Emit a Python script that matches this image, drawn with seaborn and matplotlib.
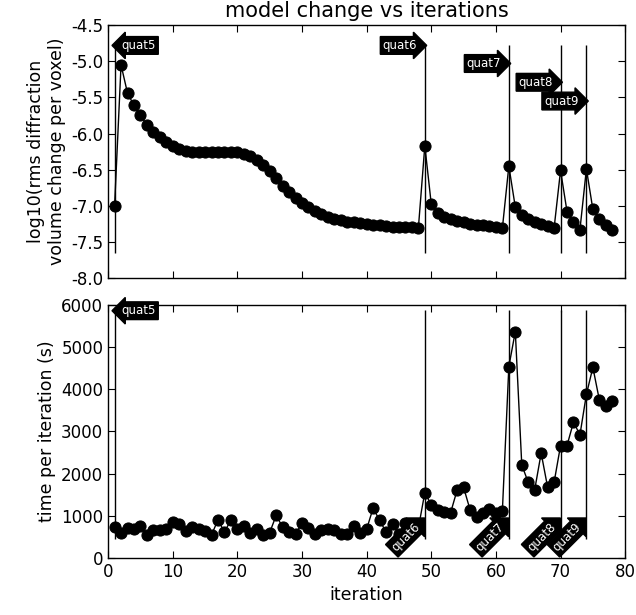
import numpy as np
import pandas as pd
import seaborn as sns
import matplotlib
matplotlib.use("Agg")
import matplotlib.pyplot as plt

iterations = list(range(1, 79))

rms_change = [
    -7.00, -5.05, -5.44, -5.61, -5.75, -5.88, -5.98, -6.05, -6.12, -6.17,
    -6.21, -6.24, -6.25, -6.26, -6.26, -6.26, -6.25, -6.25, -6.25, -6.26,
    -6.28, -6.31, -6.36, -6.43, -6.52, -6.62, -6.72, -6.81, -6.89, -6.96,
    -7.02, -7.07, -7.11, -7.15, -7.18, -7.20, -7.22, -7.23, -7.24, -7.25,
    -7.26, -7.27, -7.28, -7.29, -7.29, -7.30, -7.30, -7.31, -6.17, -6.98,
    -7.10, -7.16, -7.19, -7.21, -7.23, -7.25, -7.26, -7.27, -7.28, -7.29,
    -7.31, -6.45, -7.02, -7.13, -7.18, -7.22, -7.25, -7.28, -7.31, -6.51,
    -7.08, -7.23, -7.33, -6.49, -7.05, -7.18, -7.26, -7.34,
]

time_per_iter = [
    730, 585, 705, 690, 745, 545, 650, 665, 680, 845,
    805, 625, 720, 680, 625, 545, 900, 610, 900, 690,
    745, 600, 690, 545, 600, 1005, 730, 610, 570, 820,
    705, 570, 650, 680, 665, 570, 570, 745, 600, 680,
    1180, 890, 615, 800, 560, 830, 620, 700, 1550, 1255,
    1140, 1085, 1075, 1610, 1670, 1140, 965, 1075, 1160, 1060,
    1115, 4540, 5370, 2205, 1790, 1615, 2485, 1675, 1790, 2665,
    2665, 3220, 2920, 3880, 4520, 3750, 3610, 3730,
]

# quaternion refinement switches
quat_names = ["quat5", "quat6", "quat7", "quat8", "quat9"]
quat_iters = [1, 49, 62, 70, 74]
quat_label_y_top = [-4.78, -4.78, -5.03, -5.29, -5.55]
vline_top = (-7.65, -4.78)
vline_bottom = (450, 5880)
quat5_y_bottom = 5865
quat_label_y_bottom = 950

df = pd.DataFrame({"iteration": iterations, "rms": rms_change, "time": time_per_iter})

sns.set_style("ticks")
plt.rcParams.update({
    "xtick.direction": "in", "ytick.direction": "in",
    "xtick.top": True, "ytick.right": True,
    "xtick.major.size": 5, "ytick.major.size": 5,
    "axes.linewidth": 1.0,
    "text.color": "k", "axes.labelcolor": "k",
    "xtick.color": "k", "ytick.color": "k", "axes.edgecolor": "k",
})
plt.rcParams["font.family"] = ["DejaVu Sans"]

fig, (ax1, ax2) = plt.subplots(2, 1, figsize=(6.36, 6.15), dpi=100, sharex=True)
fig.subplots_adjust(left=0.17, right=0.983, top=0.959, bottom=0.093, hspace=0.107)

line_kw = dict(color="k", marker="o", markersize=8, markeredgecolor="k", linewidth=1)
sns.lineplot(data=df, x="iteration", y="rms", ax=ax1, **line_kw)
sns.lineplot(data=df, x="iteration", y="time", ax=ax2, **line_kw)

ax1.vlines(quat_iters, vline_top[0], vline_top[1], color="k", linewidth=1)
ax2.vlines(quat_iters, vline_bottom[0], vline_bottom[1], color="k", linewidth=1)

box_l = dict(boxstyle="larrow,pad=0.2", fc="k", ec="k")
box_r = dict(boxstyle="rarrow,pad=0.2", fc="k", ec="k")
for i, (name, it) in enumerate(zip(quat_names, quat_iters)):
    if i == 0:
        ax1.annotate(name, xy=(it, quat_label_y_top[i]), xytext=(5, 0), textcoords="offset points",
                     ha="left", va="center", color="w", fontsize=8.5, bbox=box_l)
        ax2.annotate(name, xy=(it, quat5_y_bottom), xytext=(5, 0), textcoords="offset points",
                     ha="left", va="center", color="w", fontsize=8.5, bbox=box_l)
    else:
        ax1.annotate(name, xy=(it, quat_label_y_top[i]), xytext=(-5.5, 0), textcoords="offset points",
                     ha="right", va="center", color="w", fontsize=8.5, bbox=box_r)
        ax2.annotate(name, xy=(it, quat_label_y_bottom), xytext=(-5, -5), textcoords="offset points",
                     ha="right", va="center", rotation=45, rotation_mode="anchor",
                     color="w", fontsize=8.5, bbox=box_r)

ax1.set_xlim(0, 80)
ax1.set_ylim(-8.0, -4.5)
ax1.set_yticks(np.arange(-8.0, -4.49, 0.5))
ax1.yaxis.set_major_formatter(matplotlib.ticker.FormatStrFormatter("%.1f"))
ax1.set_title("model change vs iterations", fontsize=15)
ax1.set_ylabel("log10(rms diffraction\nvolume change per voxel)", fontsize=12.5)
ax1.set_xlabel("")

ax2.set_ylim(0, 6000)
ax2.set_yticks(range(0, 6001, 1000))
ax2.set_xticks(range(0, 81, 10))
ax2.set_ylabel("time per iteration (s)", fontsize=12.5)
ax2.set_xlabel("iteration", fontsize=12.5)

for ax in (ax1, ax2):
    ax.tick_params(labelsize=12, which="both", top=True, right=True, colors="k")

fig.savefig("out.png", dpi=100)
